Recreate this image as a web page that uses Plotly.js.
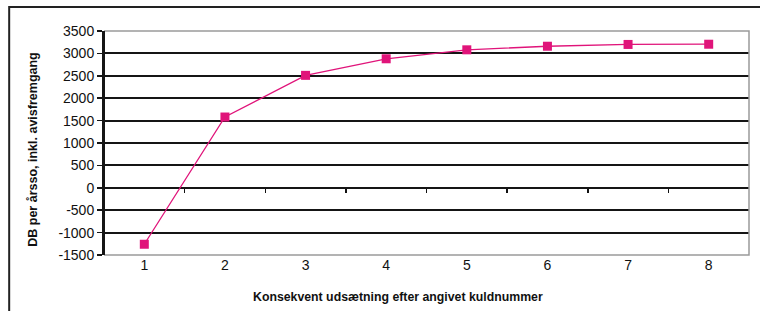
<!DOCTYPE html>
<html>
<head>
<meta charset="utf-8">
<script src="https://cdn.plot.ly/plotly-3.0.1.min.js"></script>
<style>html,body{margin:0;padding:0;background:#fff;}#chart{width:760px;height:311px;}</style>
</head>
<body>
<div id="chart"></div>
<script>
var kuld = [1, 2, 3, 4, 5, 6, 7, 8];
var dbValues = [-1260, 1580, 2510, 2880, 3080, 3160, 3200, 3205];
var yTicks = [-1500, -1000, -500, 0, 500, 1000, 1500, 2000, 2500, 3000, 3500];
var xTitle = 'Konsekvent udsætning efter angivet kuldnummer';
var yTitle = 'DB per årsso, inkl. avisfremgang';
var boundaries = [1.5, 2.5, 3.5, 4.5, 5.5, 6.5, 7.5];

var font = 'Liberation Sans, Arial, sans-serif';
var pink = '#e0147a';

var trace = {
  x: kuld, y: dbValues, type: 'scatter', mode: 'lines+markers',
  line: {color: pink, width: 1.3},
  marker: {symbol: 'square', size: 9, color: pink},
  hoverinfo: 'skip', showlegend: false
};
var dummy = {x: [], y: [], xaxis: 'x2', yaxis: 'y', type: 'scatter', showlegend: false};

var yMin = yTicks[0], yMax = yTicks[yTicks.length - 1];
var zeroPos = (0 - yMin) / (yMax - yMin);

var layout = {
  width: 760, height: 311,
  margin: {l: 104, r: 11, t: 31, b: 56},
  paper_bgcolor: '#fff', plot_bgcolor: '#fff',
  font: {family: font, color: '#111', size: 14},
  xaxis: {
    range: [0.5, 8.5], tickvals: kuld, ticktext: kuld.map(String),
    showgrid: false, zeroline: false, showline: false, ticks: '',
    tickfont: {size: 14, family: font}, fixedrange: true
  },
  xaxis2: {
    range: [0.5, 8.5], overlaying: 'x', anchor: 'free', position: zeroPos,
    tickvals: boundaries, showticklabels: false, ticks: 'outside', ticklen: 4,
    tickcolor: '#111', tickwidth: 1.5, showline: false, showgrid: false, zeroline: false
  },
  yaxis: {
    range: [yMin, yMax], tickvals: yTicks, ticktext: yTicks.map(String),
    showgrid: true, gridcolor: '#151515', gridwidth: 2,
    zeroline: false, showline: true, linecolor: '#151515', linewidth: 2,
    ticks: 'outside', ticklen: 5, tickcolor: '#151515', tickwidth: 1.5,
    tickfont: {size: 14, family: font}, fixedrange: true
  },
  shapes: [
    {type: 'path', xref: 'paper', yref: 'paper',
     path: 'M 0,1 L 1,1 L 1,0 L 0,0', line: {color: '#9a9a9a', width: 1.5}, layer: 'above'},
    {type: 'line', xref: 'paper', yref: 'paper', x0: 0, x1: 0, y0: 0, y1: 1,
     line: {color: '#151515', width: 2}, layer: 'above'},
    {type: 'path', xref: 'paper', yref: 'paper',
     path: 'M -0.147,-0.3 L -0.147,1.107 L 1.03,1.107', line: {color: '#222', width: 2}, layer: 'above'}
  ],
  annotations: [
    {text: '<b>' + xTitle + '</b>', xref: 'paper', yref: 'paper', x: 0.456, y: -0.188,
     xanchor: 'center', yanchor: 'middle', showarrow: false, font: {size: 12.3, family: font, color: '#111'}},
    {text: '<b>' + yTitle + '</b>', xref: 'paper', yref: 'paper', x: -0.110, y: 0.47,
     xanchor: 'center', yanchor: 'middle', textangle: -90, showarrow: false,
     font: {size: 12.5, family: font, color: '#111'}}
  ]
};

Plotly.newPlot('chart', [trace, dummy], layout, {displayModeBar: false, staticPlot: true});
</script>
</body>
</html>
